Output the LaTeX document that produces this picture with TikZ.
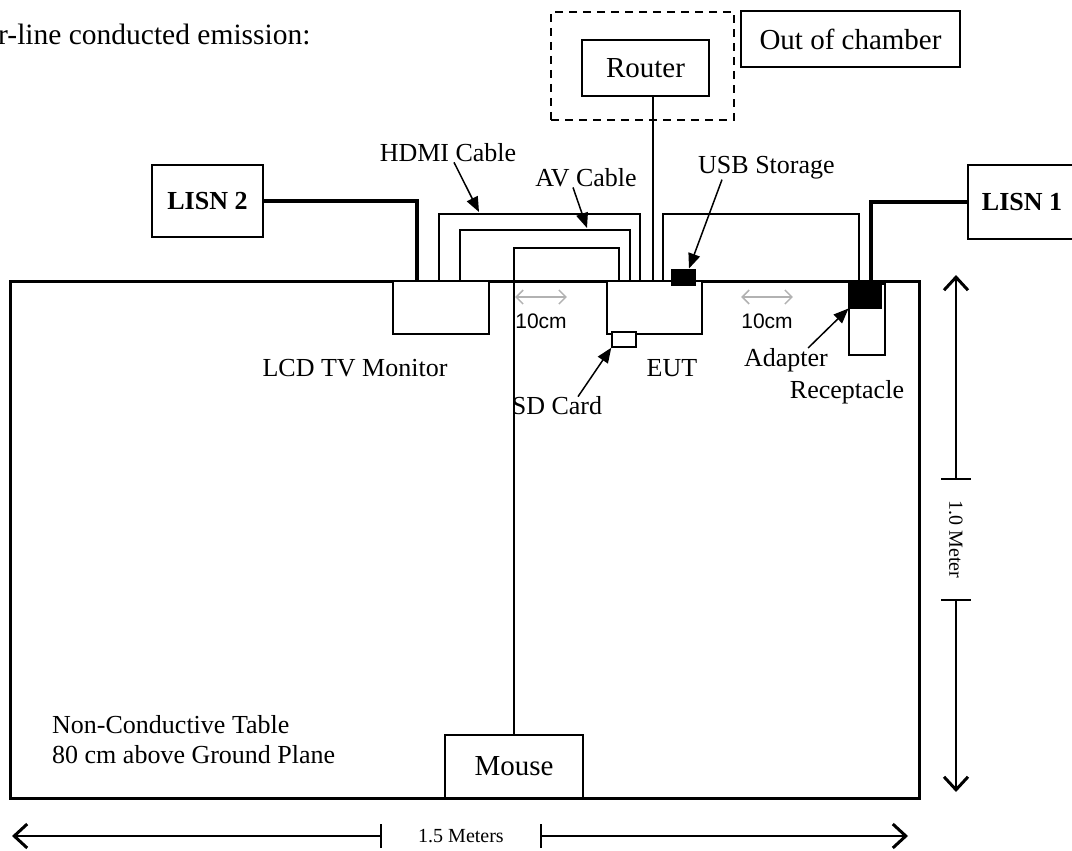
\documentclass[tikz,border=0pt]{standalone}
\usepackage{fontspec}
\setmainfont{Liberation Serif}
\newfontfamily\arialfont{Liberation Sans}
\usetikzlibrary{arrows.meta}

\tikzset{
    box/.style={draw, rectangle, line width=1.5pt, fill=white, inner sep=0pt},
    blk/.style={draw, rectangle, line width=1pt, fill=black, inner sep=0pt},
    txt/.style={font=\fontsize{26}{30}\selectfont, inner sep=0pt},
    bigtxt/.style={font=\fontsize{29}{33}\selectfont},
    lisntxt/.style={font=\fontsize{26}{30}\selectfont\bfseries},
    dimtxt/.style={font=\fontsize{20}{24}\selectfont, inner ysep=0pt},
    tentxt/.style={font=\arialfont\fontsize{21}{25}\selectfont, inner sep=0pt},
    cable/.style={line width=1.5pt},
    power/.style={line width=4pt},
    callout/.style={line width=1.5pt, -{Triangle[length=15pt,width=12pt]}},
    tencm/.style={gray!60, line width=1.5pt, {Straight Barb[length=7pt,width=14pt]}-{Straight Barb[length=7pt,width=14pt]}},
    dimline/.style={line width=2pt},
    dimarrow/.style={line width=2pt, -{Straight Barb[length=13pt,width=24pt,line width=3pt]}}
}

\begin{document}
\begin{tikzpicture}[x=1pt, y=-1pt]
    \useasboundingbox (0,0) rectangle (1072,851);

    % Title
    \node[font=\fontsize{29.5}{34}\selectfont, inner sep=0pt, anchor=base west] (title) at (-2,45) {r-line conducted emission:};

    % Table
    \node[draw, rectangle, line width=3pt, minimum width=909pt, minimum height=517pt] (table) at (464.5,539.5) {};
    \node[txt, align=left, anchor=west] (tablelbl) at (52,740) {Non-Conductive Table\\80 cm above Ground Plane};

    % Outside the chamber
    \node[draw, rectangle, line width=1.5pt, dash pattern=on 8pt off 6pt, minimum width=183pt, minimum height=108pt] (chamber) at (642.5,66) {};
    \node[box, bigtxt, minimum width=127pt, minimum height=56pt] (router) at (645.5,68) {Router};
    \node[box, bigtxt, minimum width=219pt, minimum height=56pt] (outside) at (850.5,39) {Out of chamber};

    % LISNs
    \node[box, lisntxt, minimum width=111pt, minimum height=72pt] (lisn2) at (207.5,201) {LISN 2};
    \node[box, lisntxt, minimum width=108pt, minimum height=74pt] (lisn1) at (1022,202) {LISN 1};

    % Equipment on the table
    \node[box, minimum width=96pt, minimum height=53pt] (tv) at (441,307.5) {};
    \node[box, minimum width=95pt, minimum height=53pt] (eut) at (654.5,307.5) {};
    \node[box, minimum width=36pt, minimum height=71pt] (recept) at (867,319.5) {};
    \node[blk, minimum width=32pt, minimum height=24pt] (adapter) at (865,296) {};
    \node[blk, minimum width=24pt, minimum height=16pt] (usb) at (683,277) {};
    \node[box, minimum width=24pt, minimum height=15pt] (sd) at (624,339.5) {};
    \node[box, bigtxt, minimum width=138pt, minimum height=63pt] (mouse) at (514,766.5) {Mouse};

    % Ports on the table edge
    \coordinate (tvPwr) at (417,281);
    \coordinate (tvHdmi) at (439,281);
    \coordinate (tvAv) at (460,281);
    \coordinate (eutMouse) at (619,281);
    \coordinate (eutAv) at (630,281);
    \coordinate (eutHdmi) at (640,281);
    \coordinate (eutLan) at (653,281);
    \coordinate (eutPwr) at (663,281);
    \coordinate (adPwrIn) at (859,284);
    \coordinate (adPwrOut) at (871,284);

    % Cables
    \draw[power] (lisn2.east) -| (tvPwr);
    \draw[power] (lisn1.west) -| (adPwrOut);
    \draw[cable] (tvHdmi) -- ++(0,-67) -| (eutHdmi);
    \draw[cable] (tvAv) -- ++(0,-51) -| (eutAv);
    \draw[cable] (eutMouse) -- ++(0,-33) -| (mouse.north);
    \draw[cable] (eutLan) -- (router.south -| eutLan);
    \draw[cable] (eutPwr) -- ++(0,-67) -| (adPwrIn);

    % Labels
    \node[txt] (tvlbl) at (355,368) {LCD TV Monitor};
    \node[txt] (eutlbl) at (672,368) {EUT};
    \node[txt] (sdlbl) at (557,406) {SD Card};
    \node[txt] (adlbl) at (786,360) {Adapter};
    \node[txt] (receptlbl) at (847,392) {Receptacle};
    \node[txt] (hdmilbl) at (448,153) {HDMI Cable};
    \node[txt] (avlbl) at (586,178) {AV Cable};
    \node[txt, anchor=west] (usblbl) at (698,168) {USB Storage};
    \node[tentxt] (tenL) at (541,321) {10cm};
    \node[tentxt] (tenR) at (767,321) {10cm};

    % Callout arrows
    \coordinate (hdmiTip) at (479,212);
    \coordinate (avTip) at (587,228);
    \draw[callout] ([xshift=6pt]hdmilbl.south) -- (hdmiTip);
    \draw[callout] ([xshift=-13pt]avlbl.south) -- (avTip);
    \draw[callout] ([xshift=24pt]usblbl.south west) -- ([xshift=6pt]usb.north);
    \draw[callout] ([xshift=21pt]sdlbl.north) -- (sd.south west);
    \draw[callout] ([xshift=-20pt]adlbl.north east) -- (adapter.south west);

    % 10cm spacing
    \draw[tencm] ([yshift=24pt]tenL.west) -- ([yshift=24pt]tenL.east);
    \draw[tencm] ([yshift=24pt]tenR.west) -- ([yshift=24pt]tenR.east);

    % Dimensions
    \coordinate (vTop) at (956,275);
    \coordinate (vBot) at (956,792);
    \node[dimtxt, rotate=-90, inner xsep=21.5pt] (vdim) at (956,539.5) {1.0 Meter};
    \draw[dimarrow] (vdim.west) -- (vTop);
    \draw[dimarrow] (vdim.east) -- (vBot);
    \draw[dimline] ([xshift=-15pt]vdim.west) -- ([xshift=15pt]vdim.west);
    \draw[dimline] ([xshift=-15pt]vdim.east) -- ([xshift=15pt]vdim.east);

    \coordinate (hLeft) at (12,836);
    \coordinate (hRight) at (908,836);
    \node[dimtxt, inner xsep=37.2pt] (hdim) at (461,836) {1.5 Meters};
    \draw[dimarrow] (hdim.west) -- (hLeft);
    \draw[dimarrow] (hdim.east) -- (hRight);
    \draw[dimline] ([yshift=-12pt]hdim.west) -- ([yshift=12pt]hdim.west);
    \draw[dimline] ([yshift=-12pt]hdim.east) -- ([yshift=12pt]hdim.east);
\end{tikzpicture}
\end{document}
